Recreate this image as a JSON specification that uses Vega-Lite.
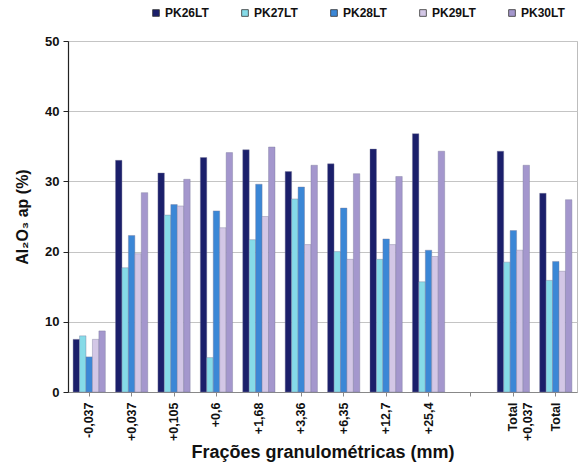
{
  "$schema": "https://vega.github.io/schema/vega-lite/v6.json",
  "width": 509,
  "height": 351,
  "autosize": "none",
  "padding": {"left": 68, "top": 41, "right": 5, "bottom": 76},
  "background": "white",
  "config": {
    "font": "Liberation Sans",
    "view": {"stroke": "#bdbdbd", "strokeWidth": 1}
  },
  "data": {
    "values": [
      {"f": "-0,037", "s": "PK26LT", "v": 7.5},
      {"f": "-0,037", "s": "PK27LT", "v": 8.0},
      {"f": "-0,037", "s": "PK28LT", "v": 5.0},
      {"f": "-0,037", "s": "PK29LT", "v": 7.5},
      {"f": "-0,037", "s": "PK30LT", "v": 8.7},
      {"f": "+0,037", "s": "PK26LT", "v": 33.0},
      {"f": "+0,037", "s": "PK27LT", "v": 17.7},
      {"f": "+0,037", "s": "PK28LT", "v": 22.3},
      {"f": "+0,037", "s": "PK29LT", "v": 19.7},
      {"f": "+0,037", "s": "PK30LT", "v": 28.4},
      {"f": "+0,105", "s": "PK26LT", "v": 31.2},
      {"f": "+0,105", "s": "PK27LT", "v": 25.2},
      {"f": "+0,105", "s": "PK28LT", "v": 26.7},
      {"f": "+0,105", "s": "PK29LT", "v": 26.5},
      {"f": "+0,105", "s": "PK30LT", "v": 30.3},
      {"f": "+0,6", "s": "PK26LT", "v": 33.4},
      {"f": "+0,6", "s": "PK27LT", "v": 4.9},
      {"f": "+0,6", "s": "PK28LT", "v": 25.8},
      {"f": "+0,6", "s": "PK29LT", "v": 23.4},
      {"f": "+0,6", "s": "PK30LT", "v": 34.1},
      {"f": "+1,68", "s": "PK26LT", "v": 34.5},
      {"f": "+1,68", "s": "PK27LT", "v": 21.7},
      {"f": "+1,68", "s": "PK28LT", "v": 29.6},
      {"f": "+1,68", "s": "PK29LT", "v": 25.0},
      {"f": "+1,68", "s": "PK30LT", "v": 34.9},
      {"f": "+3,36", "s": "PK26LT", "v": 31.4},
      {"f": "+3,36", "s": "PK27LT", "v": 27.5},
      {"f": "+3,36", "s": "PK28LT", "v": 29.2},
      {"f": "+3,36", "s": "PK29LT", "v": 21.0},
      {"f": "+3,36", "s": "PK30LT", "v": 32.3},
      {"f": "+6,35", "s": "PK26LT", "v": 32.5},
      {"f": "+6,35", "s": "PK27LT", "v": 20.0},
      {"f": "+6,35", "s": "PK28LT", "v": 26.2},
      {"f": "+6,35", "s": "PK29LT", "v": 18.9},
      {"f": "+6,35", "s": "PK30LT", "v": 31.1},
      {"f": "+12,7", "s": "PK26LT", "v": 34.6},
      {"f": "+12,7", "s": "PK27LT", "v": 18.9},
      {"f": "+12,7", "s": "PK28LT", "v": 21.8},
      {"f": "+12,7", "s": "PK29LT", "v": 21.0},
      {"f": "+12,7", "s": "PK30LT", "v": 30.7},
      {"f": "+25,4", "s": "PK26LT", "v": 36.8},
      {"f": "+25,4", "s": "PK27LT", "v": 15.7},
      {"f": "+25,4", "s": "PK28LT", "v": 20.2},
      {"f": "+25,4", "s": "PK29LT", "v": 19.3},
      {"f": "+25,4", "s": "PK30LT", "v": 34.3},
      {"f": "Total +0,037", "s": "PK26LT", "v": 34.3},
      {"f": "Total +0,037", "s": "PK27LT", "v": 18.5},
      {"f": "Total +0,037", "s": "PK28LT", "v": 23.0},
      {"f": "Total +0,037", "s": "PK29LT", "v": 20.2},
      {"f": "Total +0,037", "s": "PK30LT", "v": 32.3},
      {"f": "Total", "s": "PK26LT", "v": 28.3},
      {"f": "Total", "s": "PK27LT", "v": 15.9},
      {"f": "Total", "s": "PK28LT", "v": 18.6},
      {"f": "Total", "s": "PK29LT", "v": 17.2},
      {"f": "Total", "s": "PK30LT", "v": 27.4}
    ]
  },
  "mark": {"type": "bar", "stroke": "#7a7a9a", "strokeWidth": 0.4},
  "encoding": {
    "x": {
      "field": "f",
      "type": "nominal",
      "sort": null,
      "scale": {
        "domain": ["-0,037", "+0,037", "+0,105", "+0,6", "+1,68", "+3,36", "+6,35", "+12,7", "+25,4", " ", "Total +0,037", "Total"],
        "paddingInner": 0.24,
        "paddingOuter": 0.12
      },
      "axis": {
        "title": "Frações granulométricas (mm)",
        "titleFontSize": 18,
        "titleFontWeight": "bold",
        "titleColor": "#111",
        "titlePadding": 3,
        "labelAngle": -90,
        "labelFontSize": 12.5,
        "labelFontWeight": "bold",
        "labelColor": "#111",
        "labelPadding": 6,
        "labelExpr": "datum.value == 'Total +0,037' ? ['Total', '+0,037'] : datum.label",
        "ticks": true,
        "tickColor": "#888",
        "tickSize": 4,
        "domainColor": "#888",
        "grid": false
      }
    },
    "xOffset": {
      "field": "s",
      "type": "nominal",
      "scale": {"paddingInner": 0, "paddingOuter": 0}
    },
    "y": {
      "field": "v",
      "type": "quantitative",
      "scale": {"domain": [0, 50], "nice": false},
      "axis": {
        "title": "Al₂O₃ ap (%)",
        "titleFontSize": 16,
        "titleFontWeight": "bold",
        "titleColor": "#111",
        "titlePadding": 14,
        "values": [0, 10, 20, 30, 40, 50],
        "labelFontSize": 13,
        "labelFontWeight": "bold",
        "labelColor": "#111",
        "labelPadding": 4,
        "tickColor": "#222",
        "tickSize": 5,
        "domainColor": "#222",
        "domainWidth": 1.2,
        "gridColor": "#c4c4c4",
        "gridWidth": 1
      }
    },
    "color": {
      "field": "s",
      "type": "nominal",
      "scale": {
        "domain": ["PK26LT", "PK27LT", "PK28LT", "PK29LT", "PK30LT"],
        "range": ["#1b1f6b", "#86dbe8", "#3b87d6", "#d3c7e6", "#a497cd"]
      },
      "legend": {
        "title": null,
        "orient": "none",
        "direction": "horizontal",
        "legendX": 82,
        "legendY": -34,
        "symbolType": "square",
        "symbolSize": 45,
        "symbolStrokeColor": "#333",
        "symbolStrokeWidth": 0.8,
        "labelFontSize": 12,
        "labelFontWeight": "bold",
        "labelColor": "#111",
        "labelOffset": 3,
        "columnPadding": 30
      }
    }
  }
}
